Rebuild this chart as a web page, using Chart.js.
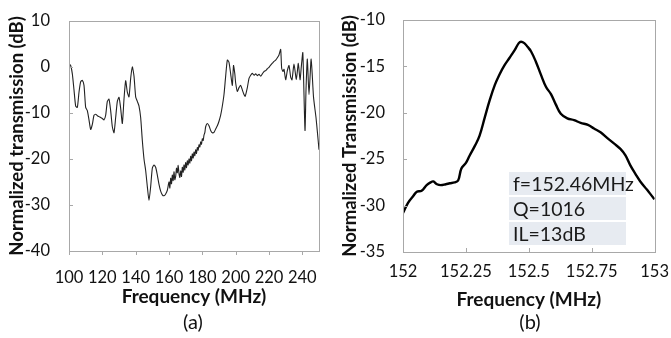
<!DOCTYPE html>
<html><head><meta charset="utf-8">
<script src="https://cdn.jsdelivr.net/npm/chart.js@4/dist/chart.umd.min.js"></script>
<style>
html,body{margin:0;padding:0;background:#fff;width:671px;height:338px;overflow:hidden;font-family:Lato,"Open Sans",sans-serif;}
canvas{position:absolute;top:0;}
#ca{left:0;} #cb{left:335px;}
.lab{position:absolute;top:309px;font-size:20px;color:#111;width:60px;text-align:center;}
.box{position:absolute;left:509px;width:117px;height:23px;background:#e7ebf1;font-size:19.5px;color:#1a1a1a;line-height:23px;padding-left:4px;box-sizing:border-box;white-space:nowrap;}
</style></head><body>
<canvas id="ca" width="335" height="338"></canvas>
<canvas id="cb" width="336" height="338"></canvas>
<div class="lab" style="left:163px">(a)</div>
<div class="lab" style="left:500px">(b)</div>
<div class="box" style="top:172px">f=152.46MHz</div>
<div class="box" style="top:197px">Q=1016</div>
<div class="box" style="top:222px">IL=13dB</div>
<script>
// Panel (a): broadband transmission
const freqA = [100,101,102,103,104,105,106,107,108,109,110,111,112,113,114,115,116,117,118,119,120,121,122,123,124,125,126,127,128,129,130,131,132,133,134,135,136,137,138,139,140,141,142,143,144,145,146,147,148,149,150,151,152,153,154,155,156,157,158,159,160,160.5,161,161.5,162,162.5,163,163.5,164,164.5,165,165.5,166,166.5,167,167.5,168,168.5,169,169.5,170,170.5,171,171.5,172,172.5,173,173.5,174,174.5,175,175.5,176,176.5,177,177.5,178,178.5,179,179.5,180,180.5,181,181.5,182,183,184,185,186,187,188,189,190,191,192,193,194,195,196,197,198,198.7,199.5,200,201,202,203,204,205,205.7,207,208,209,210,211,212,213,214,215,216,217,218,219,220,221,222,223,224,225,226,227,227.6,228.4,229,230,231,232,233,233.8,235,236.4,237.6,238.6,239.5,240.3,241.6,242.2,243,244,245.3,246.7,248.2,249,250];
const transA = [0.7,0.3,-1.5,-5,-8.5,-8.8,-5.5,-3.2,-2.9,-4,-8.8,-9.5,-11.5,-13.6,-12.5,-10.5,-10.3,-10.6,-10.8,-11,-11.2,-11.5,-10.5,-7.5,-7,-9.5,-13,-14.3,-11,-7.5,-6.6,-9,-12.3,-7,-3,-5.5,-6.5,-2.5,0,-2,-6.5,-7.5,-8.5,-11,-16,-20,-22.5,-26,-29,-26,-22,-21.3,-21.8,-23.5,-25.5,-27,-27.8,-28,-27.6,-26.8,-25,-26.3,-24.2,-25.4,-23.5,-24.7,-22.8,-24.5,-23.8,-22,-23,-21.4,-23.2,-24,-22.6,-23.8,-21.8,-22.9,-21.3,-22.4,-20.8,-21.9,-20.4,-21.3,-20,-20.9,-19.4,-20.4,-18.9,-19.8,-18.5,-19.3,-18,-18.8,-17.5,-18.1,-16.9,-17.4,-16.3,-16.8,-15.6,-16,-14.8,-14.3,-13,-12.3,-12.8,-13.8,-14.3,-14.2,-13.5,-12.8,-11.8,-10.5,-8.5,-6,-2,1.5,1,-1.5,-4,0.3,-1.5,-3.5,-5.3,-4.5,-4,-5,-6,-6.4,-4.5,-2.5,-1.8,-1.4,-1.8,-1.5,-1.9,-1.6,-2.0,-1.5,-1.0,-0.8,-0.4,-0.1,0.4,0.8,1.2,1.5,2.0,2.6,3.8,-0.3,-1,-0.5,-2.8,-0.8,0.3,-2.2,-2.8,0.6,-2.7,0.8,-2.8,0.5,3.1,-13.8,-5,1.7,-6,1.7,-6.5,-11,-14,-18];
const ticksAX = [100,120,140,160,180,200,220,240];
const ticksAY = [10,0,-10,-20,-30,-40];

// Panel (b): resonance
const freqB = [152.00,152.02,152.04,152.055,152.074,152.094,152.11,152.12,152.135,152.15,152.17,152.186,152.205,152.219,152.232,152.25,152.265,152.285,152.304,152.325,152.344,152.365,152.383,152.403,152.423,152.445,152.46,152.469,152.482,152.495,152.509,152.528,152.548,152.568,152.588,152.607,152.627,152.653,152.68,152.706,152.735,152.759,152.785,152.811,152.838,152.864,152.884,152.904,152.924,152.943,152.97,152.996,153.0];
const transB = [-30.8,-29.7,-29.0,-28.5,-28.4,-27.8,-27.5,-27.4,-27.7,-27.8,-27.7,-27.6,-27.5,-27.3,-26.0,-25.4,-24.6,-23.6,-22.5,-20.5,-18.7,-17.0,-15.9,-14.9,-14.1,-13.2,-12.5,-12.35,-12.5,-12.9,-13.4,-14.5,-15.9,-17.2,-18.0,-19.1,-20.1,-20.6,-20.8,-21.1,-21.3,-21.7,-22.1,-22.7,-23.3,-23.9,-24.6,-25.7,-26.6,-27.4,-28.3,-29.2,-29.3];
const ticksBX = [152,152.25,152.5,152.75,153];
const ticksBY = [-10,-15,-20,-25,-30,-35];

const FONT = 'Lato';
function framePlugin(xInside){
  return {
    id:'frame',
    afterDraw(chart){
      const {ctx, chartArea:a, scales} = chart;
      ctx.save();
      ctx.strokeStyle = '#a8a8a8';
      ctx.lineWidth = 1;
      ctx.strokeRect(Math.round(a.left)+0.5, Math.round(a.top)+0.5, Math.round(a.right-a.left), Math.round(a.bottom-a.top));
      ctx.beginPath();
      scales.y.ticks.forEach(t=>{
        const y = Math.round(scales.y.getPixelForValue(t.value))+0.5;
        ctx.moveTo(a.left, y); ctx.lineTo(a.left+4, y);
      });
      scales.x.ticks.forEach(t=>{
        const x = Math.round(scales.x.getPixelForValue(t.value))+0.5;
        if (xInside){ ctx.moveTo(x, a.bottom); ctx.lineTo(x, a.bottom-4); }
        else { ctx.moveTo(x, a.bottom); ctx.lineTo(x, a.bottom+4); }
      });
      ctx.stroke();
      ctx.restore();
    }
  };
}

function makeChart(id, fx, fy, xs, ys, opt){
  const data = fx.map((f,i)=>({x:f, y:fy[i]}));
  return new Chart(document.getElementById(id), {
    type:'line',
    data:{datasets:[{data, borderColor:opt.color, borderWidth:opt.lw, pointRadius:0, tension:opt.tension, fill:false}]},
    options:{
      responsive:false, animation:false, devicePixelRatio:1,
      layout:{padding:{left:0, top:opt.top, right:opt.right, bottom:0}},
      plugins:{legend:{display:false}, tooltip:{enabled:false}},
      scales:{
        x:{type:'linear', min:xs[0], max:opt.xmax,
          afterBuildTicks(s){ s.ticks = xs.map(v=>({value:v})); },
          afterFit(s){ s.height = opt.xh; },
          grid:{display:false}, border:{display:false},
          ticks:{padding:opt.xpad, color:'#111', font:{family:FONT,size:16.5}, maxRotation:0, autoSkip:false,
            callback:v=>String(+(+v).toFixed(2))},
          title:{display:true, text:'Frequency (MHz)', color:'#111', font:{family:FONT,size:19,weight:'bold'}, padding:{top:0,bottom:opt.tpad}}
        },
        y:{type:'linear', min:ys[ys.length-1], max:ys[0],
          afterBuildTicks(s){ s.ticks = ys.map(v=>({value:v})); },
          afterFit(s){ s.width = opt.yw; },
          grid:{display:false}, border:{display:false},
          ticks:{padding:opt.ypad, color:'#111', font:{family:FONT,size:16.5}},
          title:{display:true, text:opt.ytitle, color:'#111', font:{family:FONT,size:18.5,weight:'bold'}, padding:{top:opt.ytp,bottom:0}}
        }
      }
    },
    plugins:[framePlugin(opt.xin)]
  });
}

makeChart('ca', freqA, transA, ticksAX, ticksAY, {color:'#222', lw:1.1, tension:0.2, top:14, right:16, xh:87, xpad:9, tpad:30, yw:69, ypad:11, ytp:6, ytitle:'Normalized transmission (dB)', xmax:250, xin:false});
makeChart('cb', freqB, transB, ticksBX, ticksBY, {color:'#000', lw:2.4, tension:0.4, top:14, right:15, xh:86, xpad:2, tpad:27, yw:68, ypad:10, ytp:4, ytitle:'Normalized Transmission (dB)', xmax:153, xin:true});
</script>
</body></html>
